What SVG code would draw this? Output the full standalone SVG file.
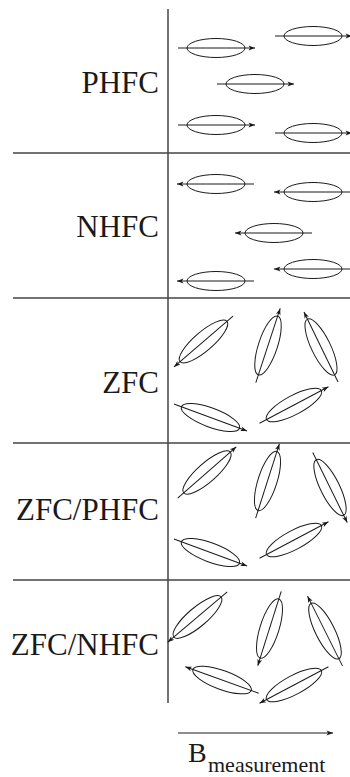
<svg xmlns="http://www.w3.org/2000/svg" width="350" height="777" viewBox="0 0 350 777">
  <style>
    .frame { stroke: #444; stroke-width: 1.5; fill: none; }
    .grain { fill: none; stroke: #1a1a1a; stroke-width: 1; }
    .axis { stroke: #1a1a1a; stroke-width: 1; fill: none; marker-end: url(#tip); }
    .label { font-family: "Liberation Serif", "Times New Roman", serif; font-size: 31px; fill: #1a1a1a; text-anchor: end; }
    .bmeas { font-family: "Liberation Serif", "Times New Roman", serif; fill: #1a1a1a; }
  </style>
  <defs>
    <marker id="tip" viewBox="-7 -3 8 6" refX="0" refY="0" markerWidth="8" markerHeight="6" markerUnits="userSpaceOnUse" orient="auto">
      <path d="M0,0 L-6.5,-2.4 L-4.8,0 L-6.5,2.4 Z" fill="#1a1a1a"/>
    </marker>
    <!-- elongated grain with its moment along local +x -->
    <g id="grainH">
      <ellipse class="grain" cx="0" cy="0" rx="29" ry="9.5"/>
      <line class="axis" x1="-38" y1="0" x2="39" y2="0"/>
    </g>
    <g id="grainT">
      <ellipse class="grain" cx="0" cy="0" rx="31" ry="9.5"/>
      <line class="axis" x1="-39" y1="0" x2="39" y2="0"/>
    </g>
  </defs>

  <!-- panel frame -->
  <g id="frame">
    <line class="frame" x1="168" y1="9" x2="168" y2="703"/>
    <line class="frame" x1="13" y1="153" x2="350" y2="153"/>
    <line class="frame" x1="13" y1="298" x2="350" y2="298"/>
    <line class="frame" x1="13" y1="443" x2="350" y2="443"/>
    <line class="frame" x1="13" y1="580" x2="350" y2="580"/>
  </g>

  <!-- row labels -->
  <g id="labels">
    <text class="label" x="159" y="93">PHFC</text>
    <text class="label" x="159" y="237">NHFC</text>
    <text class="label" x="159" y="393">ZFC</text>
    <text class="label" x="159" y="520">ZFC/PHFC</text>
    <text class="label" x="159" y="655">ZFC/NHFC</text>
  </g>

  <!-- positive high-field cooled: all moments to the right -->
  <g id="phfc">
    <use href="#grainH" transform="translate(216,48)"/>
    <use href="#grainH" transform="translate(313,36)"/>
    <use href="#grainH" transform="translate(255,84)"/>
    <use href="#grainH" transform="translate(216,125)"/>
    <use href="#grainH" transform="translate(313,133)"/>
  </g>

  <!-- negative high-field cooled: all moments to the left -->
  <g id="nhfc">
    <use href="#grainH" transform="translate(216,184) rotate(180)"/>
    <use href="#grainH" transform="translate(313,192) rotate(180)"/>
    <use href="#grainH" transform="translate(274,233) rotate(180)"/>
    <use href="#grainH" transform="translate(313,269) rotate(180)"/>
    <use href="#grainH" transform="translate(216,281) rotate(180)"/>
  </g>

  <!-- zero-field cooled: random orientations -->
  <g id="zfc">
    <use href="#grainT" transform="translate(203.5,341.5) rotate(139.2)"/>
    <use href="#grainT" transform="translate(268,345.5) rotate(-71.8)"/>
    <use href="#grainT" transform="translate(321,347) rotate(-115.9)"/>
    <use href="#grainT" transform="translate(210.5,417.5) rotate(20.3)"/>
    <use href="#grainT" transform="translate(294,405) rotate(-27.9)"/>
  </g>

  <!-- ZFC followed by positive field -->
  <g id="zfc-phfc">
    <use href="#grainT" transform="translate(207,472.5) rotate(-41.3)"/>
    <use href="#grainT" transform="translate(267.5,481) rotate(-72.3)"/>
    <use href="#grainT" transform="translate(330,487.5) rotate(63.8)"/>
    <use href="#grainT" transform="translate(210.5,552.5) rotate(20.3)"/>
    <use href="#grainT" transform="translate(294,540) rotate(-27.9)"/>
  </g>

  <!-- ZFC followed by negative field -->
  <g id="zfc-nhfc">
    <use href="#grainT" transform="translate(197.5,617) rotate(139.7)"/>
    <use href="#grainT" transform="translate(269.5,628.5) rotate(107.5)"/>
    <use href="#grainT" transform="translate(325,631) rotate(-116.6)"/>
    <use href="#grainT" transform="translate(222,680) rotate(-160.1)"/>
    <use href="#grainT" transform="translate(294,685) rotate(152.1)"/>
  </g>

  <!-- measurement field direction -->
  <g id="field">
    <line class="axis" x1="178" y1="733" x2="333" y2="733"/>
    <text class="bmeas" x="188" y="762" font-size="28">B</text>
    <text class="bmeas" x="208" y="772" font-size="22">measurement</text>
  </g>
</svg>
